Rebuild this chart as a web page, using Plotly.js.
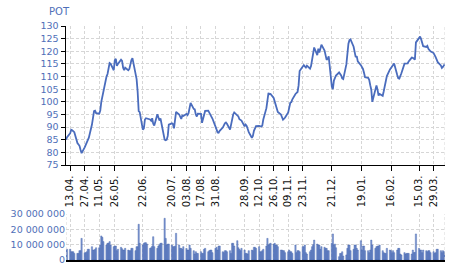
<!DOCTYPE html>
<html>
<head>
<meta charset="utf-8">
<script src="https://cdn.plot.ly/plotly-3.0.1.min.js"></script>
<style>html,body{margin:0;padding:0;background:#fff;}#chart{width:450px;height:266px;}</style>
</head>
<body>
<div id="chart"></div>
<script>
// First trading session shown; sessions follow on consecutive weekdays
const firstDate = '2009-04-09';
const lastDate = '2010-04-09';
const ticker = 'POT';

// Closing price, one value per weekday
const price = [
  85, 86,
  87.5, 88.9, 88.7, 88.3, 88,
  83.7, 83.2, 82.6, 81, 79.7,
  82, 83, 83.7, 84.8, 85.8,
  91, 94, 96.3, 96.5, 95.5,
  95.3, 96.5, 100, 102.3, 104,
  110, 111, 113.5, 115.3, 115,
  112.5, 116.5, 117, 114.2, 115,
  116.7, 116.2, 113.5, 112.5, 113.5,
  112.5, 113, 115.5, 116.5, 117.3,
  111, 109, 104, 96.3, 95.9,
  89, 89.5, 93, 93.5, 93.4,
  93, 92.5, 93.5, 91.3, 90.6,
  95.1, 93.8, 92.6, 93.4, 91.3,
  85, 84.8, 85, 86.5, 91,
  91.5, 91.2, 89.5, 92.5, 96,
  95, 93.8, 93.2, 94.6, 94.4,
  95.2, 94.7, 95.5, 98, 99.6,
  97.2, 97, 95, 94.2, 95.3,
  95.2, 91.7, 93.7, 95.4, 96.4,
  96.5, 95.7, 94.5, 93.8, 93.4,
  90.2, 89.2, 87.9, 87.8, 88.5,
  89.8, 90.8, 91.5, 91.8, 91.3,
  89, 91.5, 94, 95, 95.8,
  94.5, 94.2, 93.1, 93, 92.6,
  90.3, 91, 90.5, 89.5, 88,
  85.8, 86.5, 88.5, 89.6, 90.4,
  90.5, 90.4, 90.2, 90.5, 93,
  97.5, 101, 103.5, 103, 103.1,
  101.5, 100, 98.7, 97.6, 96,
  95, 93.5, 92.9, 93.3, 93.8,
  95.8, 97.5, 99.6, 99.9, 101,
  103.1, 103.5, 103.9, 106.5, 112.2,
  114, 114.5, 114, 113.6, 114.3,
  113.1, 114.2, 116.5, 119.2, 121.5,
  118.5, 121, 119.5, 121, 122.6,
  120.3, 117.8, 116.6, 117, 118,
  106, 105, 108.4, 109.5, 110.4,
  111.6, 111.2, 110.4, 109.3, 109,
  114.8, 119.5, 123, 124.4, 124.7,
  121.8, 119.8, 117.7, 118.1, 116,
  114.5, 113.8, 113, 111.5, 109.7,
  109.5, 108.7, 106.6, 104.8, 100,
  104.6, 106.5, 104.8, 102.5, 103.1,
  102.4, 104.2, 106.2, 108.1, 110.2,
  112.8, 113.5, 114.3, 115, 115.2,
  110.6, 109.3, 109.2, 110.7, 111.3,
  115.1, 115.1, 115, 115.2, 116,
  117.5, 117.4, 117, 116.7, 123.5,
  125.2, 125.8, 124.8, 123, 122,
  121.7, 122.1, 121, 120.2, 120,
  119.3, 118.7, 117.7, 116.7, 115.7,
  114.4, 113.4, 113.8, 114.6, 115.1
];

// Volume in millions of shares, one value per weekday
const volumeMillions = [
  7, 7,
  7, 5.4, 5.4, 5.4, 4.3,
  4.3, 4.3, 6.1, 6.1, 14.1,
  4.8, 4.8, 5.4, 7, 7,
  8.7, 6.5, 6.5, 7, 8,
  8, 9.8, 15.7, 14.8, 12,
  9.8, 10.9, 11, 12, 9.8,
  8.7, 9.1, 9.1, 6.1, 7,
  8.3, 7.4, 6.5, 6.5, 7.6,
  6.5, 6.1, 6.1, 7.6, 7.6,
  6.1, 8.7, 8.7, 23.3, 10.9,
  9.8, 10.9, 11.3, 11.3, 10.4,
  7.6, 8, 9, 15.2, 8.7,
  7.6, 9.1, 10, 10.9, 11,
  27.2, 14.1, 9.8, 10.4, 10.4,
  9.8, 8.7, 8.7, 9, 17.4,
  9.8, 7.6, 7.6, 7, 8.7,
  7.6, 6.5, 6.5, 9.8, 7.6,
  6.1, 3.9, 5.4, 4.3, 4.3,
  5.4, 4.3, 4.3, 7, 7.6,
  5.4, 6.1, 6.5, 6.5, 4.8,
  7.6, 8.3, 6.5, 9.1, 9.1,
  5.4, 4.8, 6.1, 6.1, 5.4,
  6.1, 4.3, 10.9, 10.9, 9.1,
  12.6, 8, 7, 6.1, 7.6,
  6.5, 4.3, 4.3, 3.9, 6.1,
  6.5, 6.1, 8.3, 8.3, 7.6,
  8.7, 5.4, 5.4, 6.1, 7,
  9.1, 14.1, 9.8, 10.5, 10.9,
  10.4, 10.9, 9.8, 9.8, 8.7,
  6.5, 6.5, 6.1, 6.1, 4.8,
  5.4, 6.5, 5.4, 5.4, 4.3,
  9.8, 4.8, 6.1, 6.1, 5.4,
  8.7, 8.7, 9.8, 4.8, 3.9,
  5.4, 6.5, 8.7, 10, 13,
  10.4, 9.8, 9.8, 7, 8.7,
  8.3, 7.6, 7.6, 6.1, 6.1,
  10.9, 17, 9.8, 10.4, 8,
  2.2, 4.3, 4.3, 5.4, 2.6,
  3.3, 7.6, 9.8, 9.8, 6.1,
  7, 9.8, 9.8, 7.6, 6.5,
  12.6, 6.5, 9.1, 9.1, 6.1,
  6.1, 4.8, 6.5, 13, 9.8,
  7.6, 8.7, 9.1, 9.1, 9.8,
  6.1, 4.8, 4.3, 4.3, 7.6,
  6.5, 6.1, 4.8, 6.1, 4.8,
  6.5, 7.6, 7.6, 3.9, 3.3,
  4.8, 3.9, 4.3, 4.3, 4.3,
  3.9, 6.5, 4.8, 5, 17,
  7.6, 6.5, 6.5, 4.8, 6.5,
  6.1, 5.4, 6.1, 6.1, 4.8,
  5.4, 4.3, 4.8, 7, 7,
  6.1, 4.8, 6.1, 5.4, 4.8
];

const tickDates = ['2009-04-13','2009-04-27','2009-05-11','2009-05-26','2009-06-22','2009-07-20','2009-08-03','2009-08-17','2009-08-31','2009-09-28','2009-10-12','2009-10-26','2009-11-09','2009-11-23','2009-12-21','2010-01-19','2010-02-16','2010-03-15','2010-03-29'];
const tickLabels = ['13.04.','27.04.','11.05.','26.05.','22.06.','20.07.','03.08.','17.08.','31.08.','28.09.','12.10.','26.10.','09.11.','23.11.','21.12.','19.01.','16.02.','15.03.','29.03.'];

const priceTicks = [75, 80, 85, 90, 95, 100, 105, 110, 115, 120, 125, 130];
const volumeTicks = [0, 10000000, 20000000, 30000000];
const volumeTickLabels = ['0', '10 000 000', '20 000 000', '30 000 000'];

// weekday sequence for the sessions
function weekdays(start, n) {
  const out = [];
  const d = new Date(start + 'T00:00:00Z');
  while (out.length < n) {
    const wd = d.getUTCDay();
    if (wd !== 0 && wd !== 6) out.push(d.toISOString().slice(0, 10));
    d.setUTCDate(d.getUTCDate() + 1);
  }
  return out;
}
const dates = weekdays(firstDate, price.length);
const volume = volumeMillions.map(v => v * 1e6);

const blue = '#4a6cbd';
const labelBlue = '#4f6fb8';
const gridColor = '#d6d6d6';
const font = 'DejaVu Sans, sans-serif';

const traces = [
  {
    type: 'scatter', mode: 'lines', x: dates, y: price,
    line: {color: blue, width: 1.8}, xaxis: 'x', yaxis: 'y', hoverinfo: 'skip'
  },
  {
    type: 'bar', x: dates, y: volume,
    width: 86400000 * 1.25,
    marker: {color: 'rgba(96,128,200,0.8)', line: {color: '#3f5fa8', width: 0.4}},
    xaxis: 'x2', yaxis: 'y2', hoverinfo: 'skip'
  }
];

const xCommon = {
  type: 'date', range: [firstDate, lastDate],
  tickmode: 'array', tickvals: tickDates, ticktext: tickLabels,
  showgrid: true, gridcolor: gridColor, griddash: '3px,2px', gridwidth: 1,
  zeroline: false
};

const layout = {
  width: 450, height: 266,
  margin: {l: 66, r: 5, t: 26, b: 6},
  paper_bgcolor: '#fff', plot_bgcolor: '#fff',
  showlegend: false,
  bargap: 0,
  font: {family: font, size: 9, color: labelBlue},
  xaxis: Object.assign({}, xCommon, {
    anchor: 'y', tickangle: -90,
    ticks: 'outside', ticklen: 5, tickcolor: '#000', tickwidth: 1,
    showline: true, linecolor: '#000', linewidth: 1.5,
    tickfont: {family: font, size: 10, color: '#111'}
  }),
  xaxis2: Object.assign({}, xCommon, {
    anchor: 'y2', matches: 'x', showticklabels: false, ticks: '',
    showline: true, linecolor: '#000', linewidth: 1.5
  }),
  yaxis: {
    domain: [0.406, 1], range: [75, 130],
    tickmode: 'array', tickvals: priceTicks,
    ticks: 'outside', ticklen: 4, tickcolor: '#000',
    showline: true, linecolor: '#000', linewidth: 1.5,
    showgrid: true, gridcolor: gridColor, griddash: '3px,2px',
    zeroline: false,
    tickfont: {family: font, size: 9.5, color: labelBlue}
  },
  yaxis2: {
    domain: [0, 0.1966], range: [0, 30000000],
    tickmode: 'array', tickvals: volumeTicks, ticktext: volumeTickLabels,
    ticks: '', showline: false,
    showgrid: true, gridcolor: gridColor, griddash: '3px,2px',
    zeroline: false,
    tickfont: {family: font, size: 9.5, color: labelBlue}
  },
  shapes: [
    {type: 'line', xref: 'x', yref: 'paper', x0: lastDate, x1: lastDate, y0: 0.406, y1: 1,
     line: {color: gridColor, width: 1, dash: '3px,2px'}},
    {type: 'line', xref: 'x2', yref: 'paper', x0: lastDate, x1: lastDate, y0: 0, y1: 0.1966,
     line: {color: gridColor, width: 1, dash: '3px,2px'}},
    {type: 'line', xref: 'x2', yref: 'paper', x0: firstDate, x1: firstDate, y0: 0, y1: 0.1966,
     line: {color: gridColor, width: 1, dash: '3px,2px'}}
  ],
  annotations: [
    {text: ticker, xref: 'paper', yref: 'paper', x: -0.05, y: 1.06,
     xanchor: 'left', yanchor: 'middle', showarrow: false,
     font: {family: font, size: 10, color: labelBlue}}
  ]
};

Plotly.newPlot('chart', traces, layout, {displayModeBar: false, staticPlot: true});
</script>
</body>
</html>
